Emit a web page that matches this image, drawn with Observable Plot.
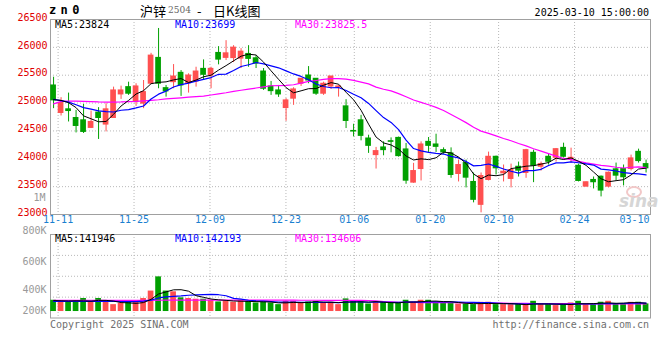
<!DOCTYPE html>
<html>
<head>
<meta charset="utf-8">
<script src="https://cdn.jsdelivr.net/npm/d3@7"></script>
<script src="https://cdn.jsdelivr.net/npm/@observablehq/plot@0.6"></script>
<style>
  body { margin: 0; background: #fff; }
  #wrap { position: relative; width: 660px; height: 360px; background: #fff; overflow: hidden; }
  #wrap > div.layer { position: absolute; left: 0; top: 0; }
  .t { position: absolute; white-space: pre; }
</style>
</head>
<body>
<div id="wrap">
  <div class="layer" id="main"></div>
  <div class="layer" id="vol"></div>
</div>
<script>
// ---------------- data ----------------
const dates = ["11-08","11-11","11-12","11-13","11-14","11-15","11-18","11-19","11-20","11-21","11-22","11-25","11-26","11-27","11-28","11-29","12-02","12-03","12-04","12-05","12-06","12-09","12-10","12-11","12-12","12-13","12-16","12-17","12-18","12-19","12-20","12-23","12-24","12-25","12-26","12-27","12-30","12-31","01-02","01-03","01-06","01-07","01-08","01-09","01-10","01-13","01-14","01-15","01-16","01-17","01-20","01-21","01-22","01-23","01-24","01-27","02-05","02-06","02-07","02-10","02-11","02-12","02-13","02-14","02-17","02-18","02-19","02-20","02-21","02-24","02-25","02-26","02-27","02-28","03-03","03-04","03-05","03-06","03-07","03-10"];

const open  = [25316,24822,24888,24732,24691,24554,24829,24614,24732,25155,25286,25018,24989,25347,25811,25268,25375,25543,25357,25388,25614,25495,25900,25811,25807,25798,25882,25804,25566,25298,25227,24911,25079,25347,25495,25436,25168,25298,25280,24941,24500,24691,24364,24066,24204,24316,24375,24168,23572,23816,24304,24257,24155,24097,23727,23923,23584,23173,23620,24036,23739,23638,23857,23745,24107,23857,24036,24018,24196,23989,23875,23500,23620,23679,23500,23811,23816,23816,24125,23905];
const high  = [25464,25097,25179,24870,24977,24857,24918,24989,25286,25304,25375,25347,25405,25893,26339,25316,25691,25584,25525,25643,25775,25643,26013,26120,26030,25977,26030,25852,25620,25388,25316,25079,25275,25441,25655,25441,25375,25477,25316,25061,24620,24780,24423,24204,24304,24375,24390,24275,23918,24304,24382,24441,24196,24196,23977,23977,23745,23745,24120,24048,23888,23905,23941,24170,24155,23941,24084,24185,24280,24191,23905,23584,23673,23691,23763,23923,23888,24066,24173,23977];
const low   = [24900,24768,24661,24464,24454,24543,24347,24482,24727,25066,25138,24941,24900,25340,25257,25107,25257,25120,25179,25286,25405,25257,25686,25763,25727,25620,25643,25620,25227,25138,25102,24673,24959,25298,25347,25138,25138,25245,25107,24543,24393,24322,24097,23816,24054,24107,24030,23543,23561,23602,24114,24114,24079,23650,23584,23477,23209,23030,23602,23709,23584,23477,23673,23650,23572,23780,23888,23941,24013,23923,23584,23495,23459,23316,23477,23602,23513,23780,23923,23745];
const close = [25048,25000,24857,24589,24482,24661,24732,24888,25227,25227,25168,25298,25197,25852,25347,25209,25477,25316,25495,25566,25507,25614,25780,25893,25995,25923,25793,25709,25257,25214,25155,25048,25245,25436,25405,25168,25347,25477,25298,24679,24489,24411,24232,24138,24155,24304,24048,23607,23780,24257,24232,24214,24114,23709,23888,23661,23263,23691,24036,23829,23768,23798,23786,24155,23875,23905,23946,24173,24036,24018,23602,23579,23579,23429,23750,23697,23668,24007,23959,23829];

const ma5  = [25061,25048,25007,24918,24770,24718,24664,24670,24798,24947,25048,25162,25223,25348,25372,25381,25416,25440,25369,25413,25472,25500,25592,25672,25758,25841,25877,25863,25735,25579,25426,25277,25184,25220,25258,25260,25320,25367,25339,25194,25058,24871,24622,24390,24285,24248,24175,24050,23979,23999,23985,24018,24119,24105,24031,23917,23727,23642,23708,23696,23717,23824,23843,23867,23876,23904,23933,24011,23987,24016,23955,23882,23763,23641,23588,23607,23625,23710,23816,23832];
const ma10 = [25066,25045,25018,24970,24918,24890,24860,24845,24840,24871,24883,24913,24947,25073,25160,25215,25289,25332,25359,25393,25426,25458,25516,25520,25585,25657,25688,25728,25704,25669,25633,25577,25523,25478,25419,25343,25298,25275,25279,25226,25159,25096,24994,24864,24739,24653,24523,24336,24184,24142,24116,24097,24085,24042,24015,23951,23873,23881,23907,23864,23817,23776,23743,23788,23786,23811,23879,23927,23927,23946,23929,23908,23887,23814,23802,23781,23753,23737,23729,23710];
const ma30 = [24985,25030,25035,25035,25030,25025,25020,25018,25018,25020,25025,25030,25040,25050,25060,25075,25085,25095,25105,25115,25125,25145,25165,25185,25210,25230,25250,25270,25290,25311,25314,25316,25329,25357,25388,25405,25425,25440,25440,25429,25406,25377,25345,25287,25248,25218,25170,25113,25056,25012,24970,24923,24867,24795,24724,24649,24565,24497,24457,24411,24364,24323,24274,24231,24180,24138,24092,24048,24006,23984,23954,23927,23905,23881,23868,23848,23835,23848,23854,23840];

const volume = [170,151,151,160,187,158,187,151,128,141,160,151,187,258,394,258,251,193,187,180,180,170,154,160,151,170,158,144,151,144,128,160,160,144,154,160,144,151,128,183,160,154,134,154,151,144,144,170,151,170,170,150,144,144,134,134,128,150,151,128,128,128,128,128,160,128,128,119,128,144,160,128,128,151,160,138,138,150,151,135].map(v => v * 1000);
const volMa5  = [167,165,163,165,164,161,169,169,162,148,145,140,148,179,230,250,270,271,257,214,198,182,174,169,163,161,159,157,155,153,145,145,149,147,149,156,152,151,147,153,153,155,152,157,151,147,145,153,152,156,161,162,157,156,148,141,137,138,139,138,137,137,133,128,134,134,134,133,133,129,136,136,138,142,145,141,143,147,147,142].map(v => v * 1000);
const volMa10 = [160,160,160,160,160,160,160,160,160,158,157,157,161,171,192,202,208,212,218,222,224,226,223,213,188,180,170,165,162,158,153,152,153,151,151,150,149,150,147,151,154,154,151,152,152,150,150,152,155,153,154,154,155,154,152,151,150,148,148,143,139,137,135,134,136,136,136,133,130,132,135,135,135,137,137,138,139,143,145,142].map(v => v * 1000);
const volMa30 = [168,168,168,168,168,168,168,168,168,168,168,168,168,169,170,171,172,172,172,172,172,172,172,172,172,172,172,172,172,172,171,171,171,170,170,170,169,169,169,169,168,168,167,164,158,154,151,150,149,148,148,147,147,146,146,145,144,144,143,143,142,141,140,140,139,139,138,138,137,137,136,136,136,135,135,135,135,135,135,135].map(v => v * 1000);

const priceTicks = [23000,23500,24000,24500,25000,25500,26000,26500];
const priceGrid = [23500,24000,24500,25000,25500,26000];
const volGrid = [200000,400000,600000];
const dateTicks = ["11-11","11-25","12-09","12-23","01-06","01-20","02-10","02-24","03-10"];

const maMain = {ma5: "23824", ma10: "23699", ma30: "23825.5"};
const maVol  = {ma5: "141946", ma10: "142193", ma30: "134606"};

// ---------------- build ----------------
const n = dates.length;
const RED = "#ff5050", GREEN = "#00a000";
const candles = dates.map((d, i) => ({i, date: d, o: open[i], h: high[i], l: low[i], c: close[i], v: volume[i]}));
const col = d => d.c >= d.o ? RED : GREEN;
// the date grid spans n-1 intervals across the same width as n candle slots
const gridX = t => dates.indexOf(t) * n / (n - 1);
const bodyX1 = d => d.i + 0.03, bodyX2 = d => d.i + 0.79, midX = d => d.i + 0.41;
const MONO = "DejaVu Sans Mono";
const GRIDC = "#b8b8b8", FRAMEC = "#a0a0a0";
const volBase = 62000;

const mainPlot = Plot.plot({
  width: 660, height: 360,
  marginLeft: 50, marginRight: 10, marginTop: 19, marginBottom: 146,
  style: {background: "transparent", fontFamily: MONO, fontSize: "10px", overflow: "visible"},
  x: {domain: [0, n], axis: null},
  y: {domain: [23000, 26500]},
  marks: [
    Plot.ruleY(priceGrid, {stroke: GRIDC, strokeDasharray: "1,2"}),
    Plot.ruleX(dateTicks, {x: gridX, stroke: GRIDC, strokeDasharray: "1,2"}),
    Plot.frame({stroke: FRAMEC}),
    Plot.ruleX(candles, {x: midX, y1: "l", y2: "h", stroke: col, strokeWidth: 1}),
    Plot.rect(candles, {x1: bodyX1, x2: bodyX2, y1: "o", y2: "c", fill: col, insetTop: -0.5, insetBottom: -0.5}),
    Plot.line(ma30, {x: (d, i) => i + 0.41, y: d => d, stroke: "#ff00ff", strokeWidth: 1.2}),
    Plot.line(ma10, {x: (d, i) => i + 0.41, y: d => d, stroke: "#0000ff", strokeWidth: 1.2}),
    Plot.line(ma5,  {x: (d, i) => i + 0.41, y: d => d, stroke: "#000000", strokeWidth: 1}),
    Plot.axisY(priceTicks, {anchor: "left", tickSize: 0, tickPadding: 3, fill: "#e00000", dy: -2, tickFormat: d => String(d), label: null}),
    Plot.text(dateTicks.slice(0, -1), {x: gridX, frameAnchor: "bottom", dy: 8, fill: "#1a7fd0", text: d => d}),
    Plot.text(dateTicks.slice(-1), {x: gridX, frameAnchor: "bottom", dy: 8, dx: -1, textAnchor: "end", fill: "#1a7fd0", text: d => d}),
    Plot.text(["1M"], {frameAnchor: "bottom-left", dx: -5, dy: -14, textAnchor: "end", fill: "#999999", text: d => d})
  ]
});
document.getElementById("main").appendChild(mainPlot);

const volPlot = Plot.plot({
  width: 660, height: 360,
  marginLeft: 50, marginRight: 10, marginTop: 234, marginBottom: 42.5,
  style: {background: "transparent", fontFamily: MONO, fontSize: "10px", overflow: "visible"},
  x: {domain: [0, n], axis: null},
  y: {domain: [0, 800000]},
  marks: [
    Plot.ruleY(volGrid, {stroke: GRIDC, strokeDasharray: "1,2"}),
    Plot.ruleX(dateTicks, {x: gridX, stroke: GRIDC, strokeDasharray: "1,2"}),
    Plot.frame({stroke: FRAMEC}),
    Plot.rect(candles, {x1: bodyX1, x2: bodyX2, y1: () => volBase, y2: "v", fill: col}),
    Plot.line(volMa30, {x: (d, i) => i + 0.41, y: d => d, stroke: "#ff00ff", strokeWidth: 1.2}),
    Plot.line(volMa10, {x: (d, i) => i + 0.41, y: d => d, stroke: "#0000ff", strokeWidth: 1.2}),
    Plot.line(volMa5,  {x: (d, i) => i + 0.41, y: d => d, stroke: "#000000", strokeWidth: 1}),
    Plot.axisY([800000], {anchor: "left", tickSize: 0, tickPadding: 4, fill: "#999999", dy: -3.5, tickFormat: d => d / 1000 + "K", label: null}),
    Plot.axisY([600000], {anchor: "left", tickSize: 0, tickPadding: 4, fill: "#999999", dy: 6, tickFormat: d => d / 1000 + "K", label: null}),
    Plot.axisY([400000, 200000], {anchor: "left", tickSize: 0, tickPadding: 4, fill: "#999999", dy: 14, tickFormat: d => d / 1000 + "K", label: null})
  ]
});
document.getElementById("vol").appendChild(volPlot);

// ---------------- text ----------------
const wrap = document.getElementById("wrap");
function label(text, x, y, o = {}) {
  const s = document.createElement("span");
  s.className = "t";
  s.textContent = text;
  const size = o.size || 10;
  s.style.fontFamily = o.family || MONO;
  s.style.fontSize = size + "px";
  s.style.lineHeight = size + "px";
  s.style.color = o.color || "#000";
  if (o.weight) s.style.fontWeight = o.weight;
  if (o.italic) s.style.fontStyle = "italic";
  if (o.ls) s.style.letterSpacing = o.ls + "px";
  s.style.top = (y - size / 2) + "px";
  if (o.anchor === "end") { s.style.right = (660 - x) + "px"; }
  else { s.style.left = x + "px"; }
  wrap.appendChild(s);
  return s;
}
const CJK = "'Noto Sans CJK SC', sans-serif";
label("zn0", 49, 10, {size: 12, weight: "bold", ls: 4.4});
label("沪锌", 140, 10, {size: 13, family: CJK});
label("2504", 168, 10.5, {size: 9, family: "'DejaVu Serif', serif", color: "#666"});
label("-", 197, 10, {size: 13, family: CJK});
label("日K线图", 213, 10, {size: 13, family: CJK});
label("2025-03-10 15:00:00", 649, 12.5, {anchor: "end"});

label("MA5:" + maMain.ma5, 55, 24.5, {color: "#000"});
label("MA10:" + maMain.ma10, 175, 24.5, {color: "#0000ff"});
label("MA30:" + maMain.ma30, 295, 24.5, {color: "#ff00ff"});

label("MA5:" + maVol.ma5, 55, 239, {color: "#000"});
label("MA10:" + maVol.ma10, 175, 239, {color: "#0000ff"});
label("MA30:" + maVol.ma30, 295, 239, {color: "#ff00ff"});

label("Copyright 2025 SINA.COM", 50, 324.5, {color: "#707070"});
label("http://finance.sina.com.cn", 649, 324.5, {color: "#707070", anchor: "end"});

// faint sina watermark
const eye = document.createElement("div");
eye.style.cssText = "position:absolute;left:626px;top:186px;width:12px;height:8px;border-radius:50%;border:2px solid #f2c8c8;";
wrap.appendChild(eye);
label("sina", 619, 201, {size: 17, family: "'DejaVu Sans', sans-serif", weight: "bold", italic: true, color: "#d6d6d6"});
</script>
</body>
</html>
